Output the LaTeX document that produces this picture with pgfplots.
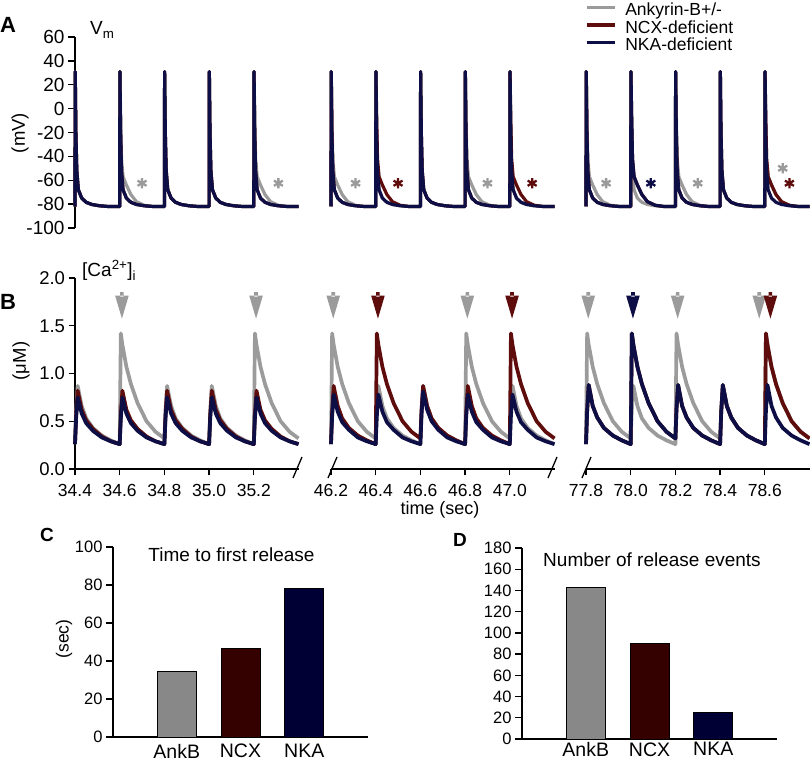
\documentclass[border=0pt]{standalone}
\usepackage{pgfplots}
\pgfplotsset{compat=1.18}
\usepackage{pgfplotstable}
\usepackage{fontspec}
\setmainfont{Liberation Sans}
\definecolor{cgray}{RGB}{155,155,155}
\definecolor{cred}{RGB}{95,12,12}
\definecolor{cnavy}{RGB}{14,14,70}
\definecolor{bgray}{RGB}{136,136,136}
\definecolor{bred}{RGB}{52,0,0}
\definecolor{bnavy}{RGB}{0,0,52}
\newcommand{\fs}[1]{\fontsize{#1bp}{#1bp}\selectfont}
\pgfdeclareplotmark{darrow}{%
 \pgfpathmoveto{\pgfqpoint{-6.8bp}{11bp}}%
 \pgfpathlineto{\pgfqpoint{6.8bp}{11bp}}%
 \pgfpathlineto{\pgfqpoint{0bp}{-12bp}}%
 \pgfpathclose
 \pgfpathrectangle{\pgfqpoint{-1.8bp}{10bp}}{\pgfqpoint{3.6bp}{4.5bp}}%
 \pgfusepathqfill}

\pgfplotstableread{
t a n k
34.400 -82 -82 -82
34.401 31 31 31
34.404 -20 -20 -20
34.408 -52 -52 -52
34.415 -68 -68 -68
34.430 -75 -75 -75
34.450 -78.5 -78.5 -78.5
34.475 -80.3 -80.3 -80.3
34.510 -81.4 -81.4 -81.4
34.550 -82 -82 -82
34.600 -82 -82 -82
34.601 31 31 31
34.604 -5 -20 -20
34.608 -42 -52 -52
34.615 -57 -68 -68
34.630 -64 -75 -75
34.650 -72 -78.5 -78.5
34.675 -78 -80.3 -80.3
34.710 -81 -81.4 -81.4
34.750 -82 -82 -82
34.800 -82 -82 -82
34.801 31 31 31
34.804 -20 -20 -20
34.808 -52 -52 -52
34.815 -68 -68 -68
34.830 -75 -75 -75
34.850 -78.5 -78.5 -78.5
34.875 -80.3 -80.3 -80.3
34.910 -81.4 -81.4 -81.4
34.950 -82 -82 -82
35.000 -82 -82 -82
35.001 31 31 31
35.004 -20 -20 -20
35.008 -52 -52 -52
35.015 -68 -68 -68
35.030 -75 -75 -75
35.050 -78.5 -78.5 -78.5
35.075 -80.3 -80.3 -80.3
35.110 -81.4 -81.4 -81.4
35.150 -82 -82 -82
35.200 -82 -82 -82
35.201 31 31 31
35.204 -5 -20 -20
35.208 -42 -52 -52
35.215 -57 -68 -68
35.230 -64 -75 -75
35.250 -72 -78.5 -78.5
35.275 -78 -80.3 -80.3
35.310 -81 -81.4 -81.4
35.350 -82 -82 -82
35.400 -82 -82 -82
}\VmA

\pgfplotstableread{
t a n k
46.200 -82 -82 -82
46.201 31 31 31
46.204 -5 -20 -20
46.208 -42 -52 -52
46.215 -57 -68 -68
46.230 -64 -75 -75
46.250 -72 -78.5 -78.5
46.275 -78 -80.3 -80.3
46.310 -81 -81.4 -81.4
46.350 -82 -82 -82
46.400 -82 -82 -82
46.401 31 31 31
46.404 -20 -5 -20
46.408 -52 -42 -52
46.415 -68 -57 -68
46.430 -75 -64 -75
46.450 -78.5 -72 -78.5
46.475 -80.3 -78 -80.3
46.510 -81.4 -81 -81.4
46.550 -82 -82 -82
46.600 -82 -82 -82
46.601 31 31 31
46.604 -20 -20 -20
46.608 -52 -52 -52
46.615 -68 -68 -68
46.630 -75 -75 -75
46.650 -78.5 -78.5 -78.5
46.675 -80.3 -80.3 -80.3
46.710 -81.4 -81.4 -81.4
46.750 -82 -82 -82
46.800 -82 -82 -82
46.801 31 31 31
46.804 -5 -20 -20
46.808 -42 -52 -52
46.815 -57 -68 -68
46.830 -64 -75 -75
46.850 -72 -78.5 -78.5
46.875 -78 -80.3 -80.3
46.910 -81 -81.4 -81.4
46.950 -82 -82 -82
47.000 -82 -82 -82
47.001 31 31 31
47.004 -20 -5 -20
47.008 -52 -42 -52
47.015 -68 -57 -68
47.030 -75 -64 -75
47.050 -78.5 -72 -78.5
47.075 -80.3 -78 -80.3
47.110 -81.4 -81 -81.4
47.150 -82 -82 -82
47.200 -82 -82 -82
}\VmB

\pgfplotstableread{
t a n k
77.800 -82 -82 -82
77.801 31 31 31
77.804 -5 -20 -20
77.808 -42 -52 -52
77.815 -57 -68 -68
77.830 -64 -75 -75
77.850 -72 -78.5 -78.5
77.875 -78 -80.3 -80.3
77.910 -81 -81.4 -81.4
77.950 -82 -82 -82
78.000 -82 -82 -82
78.001 31 31 31
78.004 -20 -5 -5
78.008 -52 -42 -42
78.015 -68 -57 -57
78.030 -75 -64 -64
78.050 -78.5 -72 -72
78.075 -80.3 -78 -78
78.110 -81.4 -81 -81
78.150 -82 -82 -82
78.200 -82 -82 -82
78.201 31 31 31
78.204 -5 -20 -20
78.208 -42 -52 -52
78.215 -57 -68 -68
78.230 -64 -75 -75
78.250 -72 -78.5 -78.5
78.275 -78 -80.3 -80.3
78.310 -81 -81.4 -81.4
78.350 -82 -82 -82
78.400 -82 -82 -82
78.401 31 31 31
78.404 -20 -20 -20
78.408 -52 -52 -52
78.415 -68 -68 -68
78.430 -75 -75 -75
78.450 -78.5 -78.5 -78.5
78.475 -80.3 -80.3 -80.3
78.510 -81.4 -81.4 -81.4
78.550 -82 -82 -82
78.600 -82 -82 -82
78.601 31 31 31
78.604 -5 -5 -20
78.608 -42 -42 -52
78.615 -57 -57 -68
78.630 -64 -64 -75
78.650 -72 -72 -78.5
78.675 -78 -78 -80.3
78.710 -81 -81 -81.4
78.750 -82 -82 -82
78.800 -82 -82 -82
}\VmC

\pgfplotstableread{
t a n k
34.400 .26 .26 .26
34.405 .60 .57 .53
34.412 .87 .82 .75
34.430 .66 .62 .58
34.450 .53 .51 .48
34.480 .43 .42 .40
34.520 .35 .34 .33
34.560 .30 .29 .29
34.600 .26 .26 .26
34.605 1.42 .57 .53
34.612 1.30 .82 .75
34.630 1.07 .62 .58
34.650 .89 .51 .48
34.680 .69 .42 .40
34.720 .50 .34 .33
34.760 .39 .29 .29
34.800 .32 .26 .26
34.805 .62 .57 .53
34.812 .87 .82 .75
34.830 .66 .62 .58
34.850 .53 .51 .48
34.880 .43 .42 .40
34.920 .35 .34 .33
34.960 .30 .29 .29
35.000 .26 .26 .26
35.005 .60 .57 .53
35.012 .87 .82 .75
35.030 .66 .62 .58
35.050 .53 .51 .48
35.080 .43 .42 .40
35.120 .35 .34 .33
35.160 .30 .29 .29
35.200 .26 .26 .26
35.205 1.42 .57 .53
35.212 1.30 .82 .75
35.230 1.07 .62 .58
35.250 .89 .51 .48
35.280 .69 .42 .40
35.320 .50 .34 .33
35.360 .39 .29 .29
35.400 .32 .26 .26
}\CaA

\pgfplotstableread{
t a n k
46.200 .26 .26 .26
46.205 1.42 .60 .55
46.212 1.30 .87 .78
46.230 1.07 .66 .60
46.250 .89 .53 .49
46.280 .69 .43 .41
46.320 .50 .35 .33
46.360 .39 .30 .29
46.400 .32 .26 .26
46.405 .62 1.42 .55
46.412 .87 1.30 .78
46.430 .66 1.07 .60
46.450 .53 .89 .49
46.480 .43 .69 .41
46.520 .35 .50 .33
46.560 .30 .39 .29
46.600 .26 .32 .26
46.605 .60 .62 .57
46.612 .87 .87 .81
46.630 .66 .66 .62
46.650 .53 .53 .50
46.680 .43 .43 .41
46.720 .35 .35 .33
46.760 .30 .30 .29
46.800 .26 .26 .26
46.805 1.42 .60 .55
46.812 1.30 .87 .78
46.830 1.07 .66 .60
46.850 .89 .53 .49
46.880 .69 .43 .41
46.920 .50 .35 .33
46.960 .39 .30 .29
47.000 .32 .26 .26
47.005 .62 1.42 .55
47.012 .87 1.30 .78
47.030 .66 1.07 .60
47.050 .53 .89 .49
47.080 .43 .69 .41
47.120 .35 .50 .33
47.160 .30 .39 .29
47.200 .26 .32 .26
}\CaB

\pgfplotstableread{
t a n k
77.800 .26 .26 .26
77.805 1.42 .60 .60
77.812 1.30 .88 .88
77.830 1.07 .66 .66
77.850 .89 .54 .54
77.880 .69 .43 .43
77.920 .50 .35 .35
77.960 .39 .30 .30
78.000 .32 .26 .26
78.005 .62 1.42 1.42
78.012 .87 1.30 1.30
78.030 .66 1.07 1.07
78.050 .53 .89 .89
78.080 .43 .69 .69
78.120 .35 .50 .50
78.160 .30 .39 .39
78.200 .26 .32 .32
78.205 1.42 .63 .63
78.212 1.30 .88 .88
78.230 1.07 .66 .66
78.250 .89 .54 .54
78.280 .69 .43 .43
78.320 .50 .35 .35
78.360 .39 .30 .30
78.400 .32 .26 .26
78.405 .62 .60 .60
78.412 .87 .88 .88
78.430 .66 .66 .66
78.450 .53 .54 .54
78.480 .43 .43 .43
78.520 .35 .35 .35
78.560 .30 .30 .30
78.600 .26 .26 .26
78.605 1.42 1.42 .60
78.612 1.30 1.30 .88
78.630 1.07 1.07 .66
78.650 .89 .89 .54
78.680 .69 .69 .43
78.720 .50 .50 .35
78.760 .39 .39 .30
78.800 .32 .32 .26
}\CaC

\pgfplotsset{
  trace/.style={anchor=south west, scale only axis, width=223.5bp, height=191bp,
    clip=false, tick align=outside, major tick length=7bp,
    axis line style={line width=1.3bp, black}, tick style={line width=1.3bp, black},
    every axis plot/.append style={line width=3.2bp, line join=round},
    /pgf/number format/assume math mode=true},
  catrace/.style={trace, every axis plot/.append style={line width=3.7bp},
    axis x line*=bottom, major tick length=6.5bp,
    xticklabel style={font=\fs{17.5}, inner sep=1bp, yshift=-7.8bp}},
  star/.style={only marks, mark=asterisk, mark size=5.2bp, mark options={line width=2.3bp}, forget plot},
  arr/.style={only marks, mark=darrow, forget plot},
  bars/.style={anchor=south west, scale only axis, width=255bp,
    xmin=-1, xmax=3, ymin=0, axis x line*=bottom, axis y line*=left,
    ybar, bar width=39bp, bar shift=0pt, xtick={0,1,2}, xticklabels={AnkB,NCX,NKA},
    xtick style={draw=none}, tick align=outside, major tick length=7bp,
    axis line style={line width=1.3bp, black}, tick style={line width=1.3bp, black},
    yticklabel style={font=\fs{16.5}},
    /pgf/number format/assume math mode=true},
}

\begin{document}
\begin{tikzpicture}[x=1bp,y=1bp]
\useasboundingbox (0,0) rectangle (810,761);

% ---------- Panel A ----------
\begin{axis}[trace, at={(75bp,533bp)}, xmin=34.4, xmax=35.4, ymin=-100, ymax=60,
  hide x axis, axis y line*=left, ytick={-100,-80,...,60},
  yticklabels={-100,-80,-60,-40,-20,0,20,40,60}, yticklabel style={font=\fs{19}}]
\addplot[cgray] table[x=t,y=a]{\VmA};
\addplot[cred] table[x=t,y=n]{\VmA};
\addplot[cnavy] table[x=t,y=k]{\VmA};
\addplot[star, cgray] coordinates {(34.70,-62.5) (35.31,-62.5)};
\end{axis}

\begin{axis}[trace, at={(331bp,533bp)}, xmin=46.2, xmax=47.2, ymin=-100, ymax=60, hide axis]
\addplot[cgray] table[x=t,y=a]{\VmB};
\addplot[cred] table[x=t,y=n]{\VmB};
\addplot[cnavy] table[x=t,y=k]{\VmB};
\addplot[star, cgray] coordinates {(46.31,-62.5) (46.90,-62.5)};
\addplot[star, cred] coordinates {(46.50,-62.5) (47.10,-62.5)};
\end{axis}

\begin{axis}[trace, at={(586bp,533bp)}, xmin=77.8, xmax=78.8, ymin=-100, ymax=60, hide axis,
  legend style={at={(-0.005,1.178)}, anchor=north west, draw=none, fill=none,
    inner sep=0bp, row sep=0bp, column sep=9bp, font=\fs{17.5},
    nodes={inner sep=0bp, text height=12.6bp, text depth=4.9bp}},
  legend cell align=left,
  legend image code/.code={\draw[#1, line width=3.2bp] (0bp,4.5bp) -- (28bp,4.5bp);}]
\addplot[cgray] table[x=t,y=a]{\VmC};
\addlegendentry{Ankyrin-B+/-}
\addplot[cred] table[x=t,y=n]{\VmC};
\addlegendentry{NCX-deficient}
\addplot[cnavy] table[x=t,y=k]{\VmC};
\addlegendentry{NKA-deficient}
\addplot[star, cgray] coordinates {(77.89,-62.5) (78.30,-62.5) (78.68,-50)};
\addplot[star, cnavy] coordinates {(78.09,-62.5)};
\addplot[star, cred] coordinates {(78.71,-62.5)};
\end{axis}

% ---------- Panel B ----------
\begin{axis}[catrace, at={(75bp,292bp)}, xmin=34.4, xmax=35.4, ymin=0, ymax=2,
  axis y line*=left,
  xtick={34.4,34.6,34.8,35.0,35.2}, xticklabels={34.4,34.6,34.8,35.0,35.2},
  ytick={0,0.5,1,1.5,2}, yticklabels={0.0,0.5,1.0,1.5,2.0},
  yticklabel style={font=\fs{18.5}}]
\addplot[cgray] table[x=t,y=a]{\CaA};
\addplot[cred] table[x=t,y=n]{\CaA};
\addplot[cnavy] table[x=t,y=k]{\CaA};
\addplot[arr, cgray] coordinates {(34.61,1.70) (35.21,1.70)};
\end{axis}

\begin{axis}[catrace, at={(331bp,292bp)}, xmin=46.2, xmax=47.2, ymin=0, ymax=2,
  hide y axis,
  xtick={46.2,46.4,46.6,46.8,47.0}, xticklabels={46.2,46.4,46.6,46.8,47.0}]
\addplot[cgray] table[x=t,y=a]{\CaB};
\addplot[cred] table[x=t,y=n]{\CaB};
\addplot[cnavy] table[x=t,y=k]{\CaB};
\addplot[arr, cgray] coordinates {(46.21,1.70) (46.81,1.70)};
\addplot[arr, cred] coordinates {(46.41,1.70) (47.01,1.70)};
\end{axis}

\begin{axis}[catrace, at={(586bp,292bp)}, xmin=77.8, xmax=78.8, ymin=0, ymax=2,
  hide y axis,
  xtick={77.8,78.0,78.2,78.4,78.6}, xticklabels={77.8,78.0,78.2,78.4,78.6}]
\addplot[cgray] table[x=t,y=a]{\CaC};
\addplot[cred] table[x=t,y=n]{\CaC};
\addplot[cnavy] table[x=t,y=k]{\CaC};
\addplot[arr, cgray] coordinates {(77.81,1.70) (78.21,1.70) (78.575,1.70)};
\addplot[arr, cnavy] coordinates {(78.01,1.70)};
\addplot[arr, cred] coordinates {(78.625,1.70)};
\end{axis}

% axis breaks
\foreach \xb in {293,328,548,582}{\draw[line width=1.3bp] (\xb,283) -- (\xb+9,304);}

% ---------- Panel C ----------
\begin{axis}[bars, at={(113bp,24bp)}, height=190bp, ymax=100, ytick={0,20,...,100},
  xticklabel style={font=\fs{19.5}, yshift=3.5bp}]
\addplot[fill=bgray, draw=black, line width=0.8bp] coordinates {(0,34.6)};
\addplot[fill=bred, draw=black, line width=0.8bp] coordinates {(1,46.6)};
\addplot[fill=bnavy, draw=black, line width=0.8bp] coordinates {(2,78.4)};
\end{axis}

% ---------- Panel D ----------
\begin{axis}[bars, at={(522bp,22bp)}, height=191bp, ymax=180, ytick={0,20,...,180},
  xticklabel style={font=\fs{19.5}, yshift=7bp}]
\addplot[fill=bgray, draw=black, line width=0.8bp] coordinates {(0,143)};
\addplot[fill=bred, draw=black, line width=0.8bp] coordinates {(1,90)};
\addplot[fill=bnavy, draw=black, line width=0.8bp] coordinates {(2,25)};
\end{axis}

% ---------- labels ----------
\node[anchor=base west, font=\bfseries\fs{22}, inner sep=0] at (0,728) {A};
\node[anchor=base west, font=\bfseries\fs{22}, inner sep=0] at (0,451) {B};
\node[anchor=base west, font=\bfseries\fs{19}, inner sep=0] at (40,219) {C};
\node[anchor=base west, font=\bfseries\fs{19}, inner sep=0] at (453,214) {D};
\node[anchor=base west, font=\fs{19}, inner sep=0] at (90,726) {V\textsubscript{m}};
\node[anchor=base west, font=\fs{19}, inner sep=0] at (82,484) {[Ca\textsuperscript{2+}]\textsubscript{i}};
\node[rotate=90, font=\fs{18.5}, inner sep=0] at (20,628) {(mV)};
\node[rotate=90, font=\fs{18.5}, inner sep=0] at (21,400) {(μM)};
\node[rotate=90, font=\fs{17.5}, inner sep=0] at (64,122) {(sec)};
\node[anchor=base, font=\fs{18}, inner sep=0] at (440,246) {time (sec)};
\node[anchor=base, font=\fs{19}, inner sep=0] at (231.5,199.5) {Time to first release};
\node[anchor=base, font=\fs{19}, inner sep=0] at (652,194.5) {Number of release events};
\end{tikzpicture}
\end{document}
